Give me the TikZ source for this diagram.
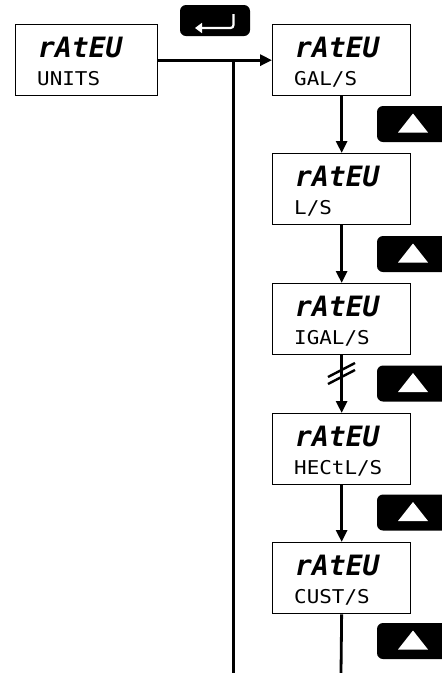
\documentclass[tikz,border=0pt]{standalone}
\usepackage{fontspec}
\usetikzlibrary{arrows.meta,calc}
\newfontfamily\segbig{DejaVu Sans Mono}
\newfontfamily\segsmall{DejaVu Sans Mono}[FakeStretch=1.1]
\tikzset{
  disp/.style={draw, line width=1.3pt, minimum height=71pt, inner sep=0pt, fill=white},
  lineone/.style={inner sep=0pt, font=\segbig\bfseries\itshape\fontsize{28pt}{28pt}\selectfont},
  linetwo/.style={inner sep=0pt, font=\segsmall\fontsize{19pt}{19pt}\selectfont},
  conn/.style={line width=2.8pt, -{Triangle[length=12pt,width=11pt]}},
  mainline/.style={line width=3pt},
  upbtn/.style={fill=black, rounded corners=6pt, minimum width=72pt, minimum height=36pt, inner sep=0pt},
  enterbtn/.style={fill=black, rounded corners=6pt, minimum width=70pt, minimum height=31pt, inner sep=0pt},
  brk/.style={line width=2.4pt}
}
\newcommand\dispbox[5]{%
  \node[disp, minimum width=#4, anchor=north west] (#1) at (#2,#3) {};
  \node[lineone, anchor=base west] (#1-a) at ($(#1.north west)+(23,33)$) {rAtEU};
  \node[linetwo, anchor=base west] (#1-b) at ($(#1.north west)+(22,61)$) {#5};
}
\begin{document}
\begin{tikzpicture}[x=1pt,y=-1pt]
\useasboundingbox (0,0) rectangle (442,673);
\clip (0,0) rectangle (442,673);
% display boxes
\dispbox{units}{15}{24}{142pt}{UNITS}
\dispbox{gal}{272}{24}{138pt}{GAL/S}
\dispbox{ls}{272}{153}{138pt}{L/S}
\dispbox{igal}{272}{283}{138pt}{IGAL/S}
\dispbox{hectl}{272}{413}{138pt}{HECtL/S}
\dispbox{cust}{272}{542}{138pt}{CUST/S}
% enter button
\node[enterbtn] (enter) at (215,20.5) {};
\draw[white, line width=2.2pt, rounded corners=3pt, -{Triangle[length=7pt,width=10pt]}]
  (233.5,14) -- (233.5,28) -- (195,28);
% up buttons
\foreach \n/\cy in {1/124,2/254,3/383.5,4/512.5,5/641}{
  \node[upbtn] (up\n) at (413,\cy) {};
  \fill[white] ($(up\n.center)+(-15,8.5)$) -- ++(30,0) -- ++(-15,-19) -- cycle;
}
% connectors
\coordinate (j) at (233,59.5);
\coordinate (jb) at (233,673);
\coordinate (cb) at (341,673);
\draw[mainline, -{Triangle[length=12pt,width=11pt]}] (units.east) -- (gal.west);
\draw[mainline] (j) -- (jb);
\draw[conn] (gal.south) -- (ls.north);
\draw[conn] (ls.south) -- (igal.north);
\draw[conn] (igal.south) -- (hectl.north);
\draw[conn] (hectl.south) -- (cust.north);
\draw[line width=2.8pt] (cust.south) -- (cb);
% break mark
\coordinate (b1) at (328,384);
\coordinate (b2) at (355,370);
\coordinate (b3) at (328,377);
\coordinate (b4) at (355,363);
\draw[brk] (b1) -- (b2);
\draw[brk] (b3) -- (b4);
\end{tikzpicture}
\end{document}
